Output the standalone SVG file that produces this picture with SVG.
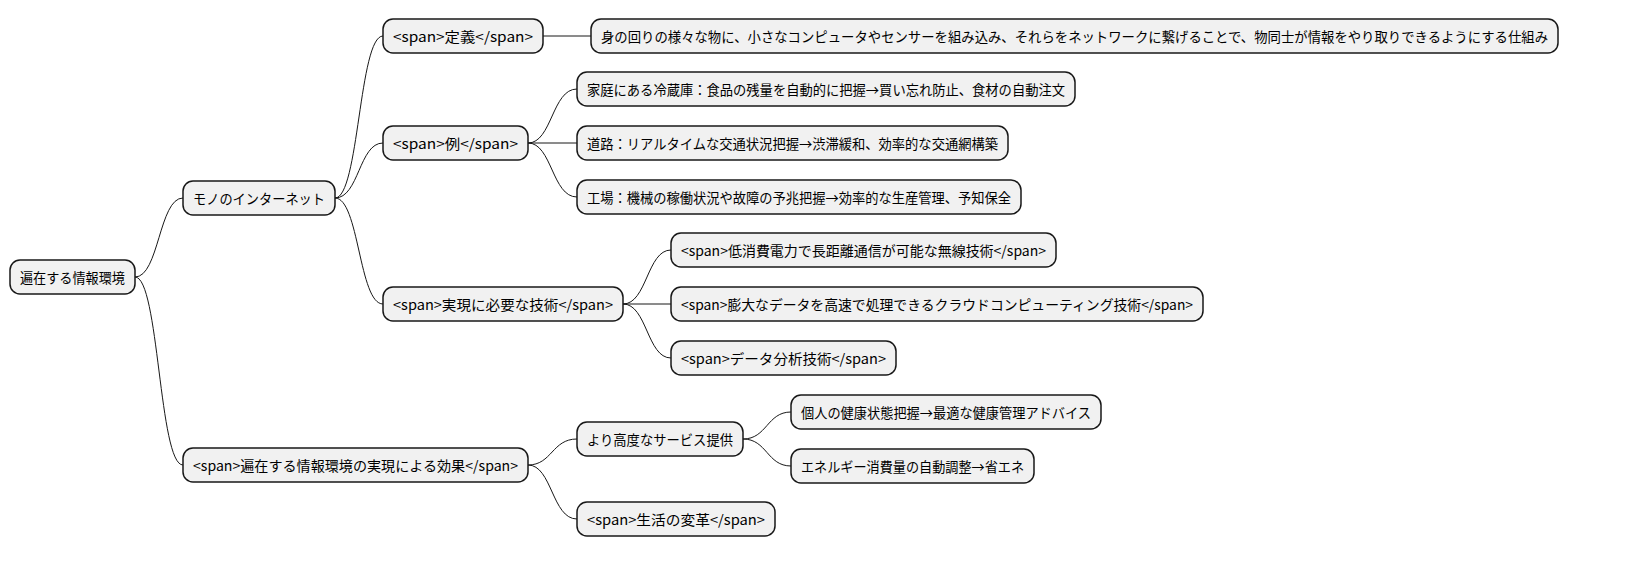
<svg xmlns="http://www.w3.org/2000/svg" width="1643" height="583" viewBox="0 0 1643 583">
<style>
rect{fill:#F1F1F1;stroke:#181818;stroke-width:1.5}
text{font-family:"Noto Sans CJK JP","Noto Sans",sans-serif;font-size:14px;fill:#000;dominant-baseline:central}
.c path{fill:none;stroke:#181818;stroke-width:1}
</style>
<rect width="1643" height="583" style="fill:#fff;stroke:none"/>
<g class="c">
<path d="M135 277 C159 277 159 198 183 198"/>
<path d="M135 277 C159 277 159 465 183 465"/>
<path d="M335 198 C359 198 359 36 383 36"/>
<path d="M335 198 C359 198 359 143 383 143"/>
<path d="M335 198 C359 198 359 304 383 304"/>
<path d="M543 36 L591 36"/>
<path d="M528 143 C552 143 552 89 577 89"/>
<path d="M528 143 L577 143"/>
<path d="M528 143 C552 143 552 197 577 197"/>
<path d="M623 304 C647 304 647 250 671 250"/>
<path d="M623 304 L671 304"/>
<path d="M623 304 C647 304 647 358 671 358"/>
<path d="M528 465 C552 465 552 439 577 439"/>
<path d="M528 465 C552 465 552 519 577 519"/>
<path d="M743 439 C767 439 767 412 791 412"/>
<path d="M743 439 C767 439 767 466 791 466"/>
</g>
<g id="root"><rect x="10" y="260" width="125" height="34" rx="10"/><text x="20" y="277" textLength="105" lengthAdjust="spacingAndGlyphs">遍在する情報環境</text></g>
<g id="iot"><rect x="183" y="181" width="152" height="34" rx="10"/><text x="193" y="198" textLength="132" lengthAdjust="spacingAndGlyphs">モノのインターネット</text></g>
<g id="def"><rect x="383" y="19" width="160" height="34" rx="10"/><text x="393" y="36" textLength="140" lengthAdjust="spacingAndGlyphs">&lt;span&gt;定義&lt;/span&gt;</text></g>
<g id="deftext"><rect x="591" y="19" width="967" height="34" rx="10"/><text x="601" y="36" textLength="947" lengthAdjust="spacingAndGlyphs">身の回りの様々な物に、小さなコンピュータやセンサーを組み込み、それらをネットワークに繋げることで、物同士が情報をやり取りできるようにする仕組み</text></g>
<g id="ex"><rect x="383" y="126" width="145" height="34" rx="10"/><text x="393" y="143" textLength="125" lengthAdjust="spacingAndGlyphs">&lt;span&gt;例&lt;/span&gt;</text></g>
<g id="ex1"><rect x="577" y="72" width="498" height="34" rx="10"/><text x="587" y="89" textLength="478" lengthAdjust="spacingAndGlyphs">家庭にある冷蔵庫：食品の残量を自動的に把握→買い忘れ防止、食材の自動注文</text></g>
<g id="ex2"><rect x="577" y="126" width="431" height="34" rx="10"/><text x="587" y="143" textLength="411" lengthAdjust="spacingAndGlyphs">道路：リアルタイムな交通状況把握→渋滞緩和、効率的な交通網構築</text></g>
<g id="ex3"><rect x="577" y="180" width="444" height="34" rx="10"/><text x="587" y="197" textLength="424" lengthAdjust="spacingAndGlyphs">工場：機械の稼働状況や故障の予兆把握→効率的な生産管理、予知保全</text></g>
<g id="tech"><rect x="383" y="287" width="240" height="34" rx="10"/><text x="393" y="304" textLength="220" lengthAdjust="spacingAndGlyphs">&lt;span&gt;実現に必要な技術&lt;/span&gt;</text></g>
<g id="t1"><rect x="671" y="233" width="385" height="34" rx="10"/><text x="681" y="250" textLength="365" lengthAdjust="spacingAndGlyphs">&lt;span&gt;低消費電力で長距離通信が可能な無線技術&lt;/span&gt;</text></g>
<g id="t2"><rect x="671" y="287" width="532" height="34" rx="10"/><text x="681" y="304" textLength="512" lengthAdjust="spacingAndGlyphs">&lt;span&gt;膨大なデータを高速で処理できるクラウドコンピューティング技術&lt;/span&gt;</text></g>
<g id="t3"><rect x="671" y="341" width="225" height="34" rx="10"/><text x="681" y="358" textLength="205" lengthAdjust="spacingAndGlyphs">&lt;span&gt;データ分析技術&lt;/span&gt;</text></g>
<g id="eff"><rect x="183" y="448" width="345" height="34" rx="10"/><text x="193" y="465" textLength="325" lengthAdjust="spacingAndGlyphs">&lt;span&gt;遍在する情報環境の実現による効果&lt;/span&gt;</text></g>
<g id="svc"><rect x="577" y="422" width="166" height="34" rx="10"/><text x="587" y="439" textLength="146" lengthAdjust="spacingAndGlyphs">より高度なサービス提供</text></g>
<g id="s1"><rect x="791" y="395" width="310" height="34" rx="10"/><text x="801" y="412" textLength="290" lengthAdjust="spacingAndGlyphs">個人の健康状態把握→最適な健康管理アドバイス</text></g>
<g id="s2"><rect x="791" y="449" width="243" height="34" rx="10"/><text x="801" y="466" textLength="223" lengthAdjust="spacingAndGlyphs">エネルギー消費量の自動調整→省エネ</text></g>
<g id="life"><rect x="577" y="502" width="198" height="34" rx="10"/><text x="587" y="519" textLength="178" lengthAdjust="spacingAndGlyphs">&lt;span&gt;生活の変革&lt;/span&gt;</text></g>
</svg>
